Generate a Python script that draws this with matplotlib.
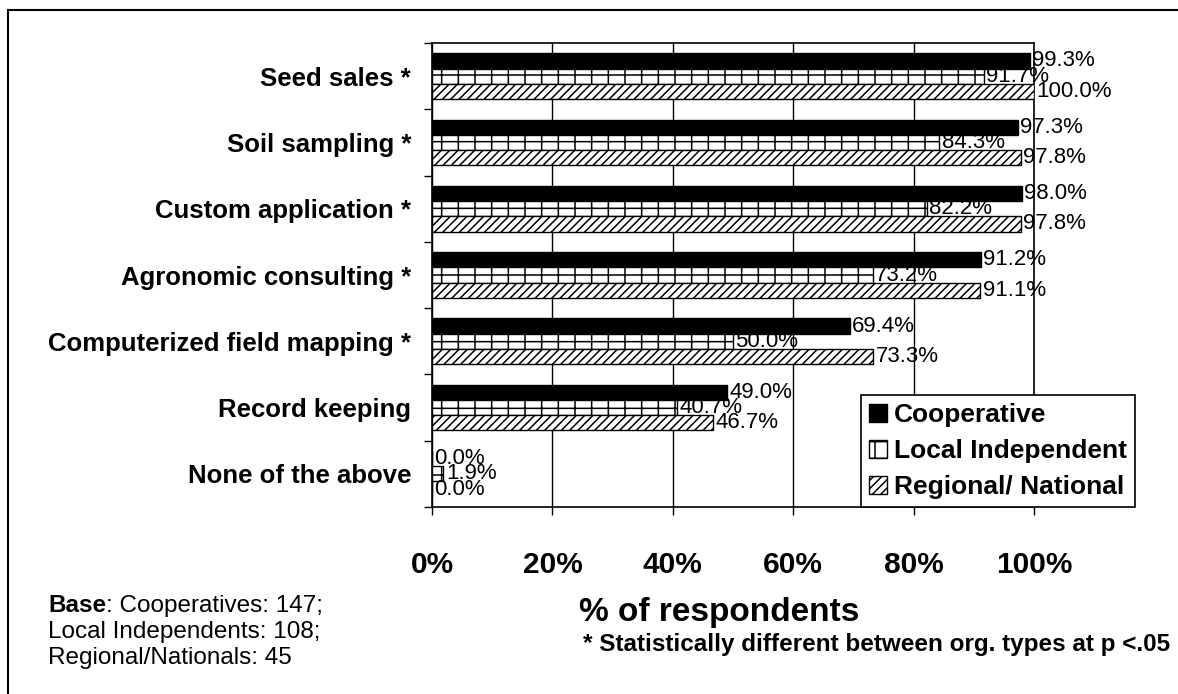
import matplotlib
matplotlib.use("Agg")
import matplotlib.pyplot as plt
import numpy as np
from matplotlib.patches import Patch
from matplotlib.lines import Line2D

categories = [
    "Seed sales *",
    "Soil sampling *",
    "Custom application *",
    "Agronomic consulting *",
    "Computerized field mapping *",
    "Record keeping",
    "None of the above",
]
series_names = ["Cooperative", "Local Independent", "Regional/ National"]
cooperative = [99.3, 97.3, 98.0, 91.2, 69.4, 49.0, 0.0]
local_independent = [91.7, 84.3, 82.2, 73.2, 50.0, 40.7, 1.9]
regional_national = [100.0, 97.8, 97.8, 91.1, 73.3, 46.7, 0.0]
x_ticks = [0, 20, 40, 60, 80, 100]
base_lines = ["Cooperatives: 147;", "Local Independents: 108;", "Regional/Nationals: 45"]
note = "* Statistically different between org. types at p <.05"

plt.rcParams["font.family"] = ["Liberation Sans", "DejaVu Sans"]
plt.rcParams["hatch.linewidth"] = 1.1

W, H = 1178, 694
fig = plt.figure(figsize=(W / 100, H / 100), dpi=100)
ax = fig.add_axes([432 / W, 1 - 507 / H, (1034 - 432) / W, (507 - 43) / H])

y = np.arange(len(categories))
bar_h = 0.23
styles = [
    dict(color="black", hatch=None),
    dict(color="white", hatch="+"),
    dict(color="white", hatch="////"),
]
for k, (vals, st) in enumerate(zip([cooperative, local_independent, regional_national], styles)):
    pos = y + (k - 1) * bar_h
    ax.barh(pos, vals, height=bar_h, color=st["color"], hatch=st["hatch"],
            edgecolor="black", linewidth=1.0, zorder=3)
    for p, v in zip(pos, vals):
        ax.text(v + 0.4, p, f"{v:.1f}%", ha="left", va="center", fontsize=16, zorder=4)

ax.set_ylim(len(categories) - 0.5, -0.5)
ax.set_xlim(0, 100)
ax.set_yticks(y)
ax.set_yticklabels(categories, fontsize=18.5, fontweight="bold")
ax.tick_params(axis="y", which="major", length=0, pad=15)
ax.set_yticks(np.arange(len(categories) + 1) - 0.5, minor=True)
ax.tick_params(axis="y", which="minor", length=6, width=1.0, direction="out")
ax.set_xticks(x_ticks)
ax.set_xticklabels([f"{t}%" for t in x_ticks], fontsize=21.5, fontweight="bold")
ax.tick_params(axis="x", length=6, width=1.0, direction="out", pad=26)
ax.grid(axis="x", color="black", linewidth=1.0, zorder=0)
for s in ax.spines.values():
    s.set_linewidth(1.2)

handles = [
    Patch(facecolor="black", edgecolor="black"),
    Patch(facecolor="white", edgecolor="black", hatch="+"),
    Patch(facecolor="white", edgecolor="black", hatch="////"),
]
leg = ax.legend(handles, series_names, loc="lower right", bbox_to_anchor=(1135 / W, 1 - 507 / H),
                bbox_transform=fig.transFigure, prop=dict(size=19, weight="bold"),
                frameon=True, fancybox=False, framealpha=1, edgecolor="black",
                handlelength=0.7, handleheight=0.7, handletextpad=0.25,
                labelspacing=0.45, borderpad=0.3, borderaxespad=0)
leg.get_frame().set_linewidth(1.2)

fig.text(719 / W, 1 - 612 / H, "% of respondents", ha="center", va="center",
         fontsize=24, fontweight="bold")
fig.text(1170 / W, 1 - 645 / H, note, ha="right", va="center", fontsize=17.5, fontweight="bold")

renderer = fig.canvas.get_renderer()
x0 = 48 / W
t = fig.text(x0, 1 - 606 / H, "Base", ha="left", va="center", fontsize=17.5, fontweight="bold")
bb = t.get_window_extent(renderer)
fig.text(bb.x1 / W, 1 - 606 / H, ": " + base_lines[0], ha="left", va="center", fontsize=17.5)
for i, line in enumerate(base_lines[1:]):
    fig.text(x0, 1 - (632 + 26 * i) / H, line, ha="left", va="center", fontsize=17.5)

# outer frame
fig.add_artist(Line2D([8 / W, 8 / W], [0, 1 - 10 / H], color="black", lw=1.5, transform=fig.transFigure))
fig.add_artist(Line2D([8 / W, 1], [1 - 10 / H, 1 - 10 / H], color="black", lw=1.5, transform=fig.transFigure))

fig.savefig("out.png", dpi=100)
